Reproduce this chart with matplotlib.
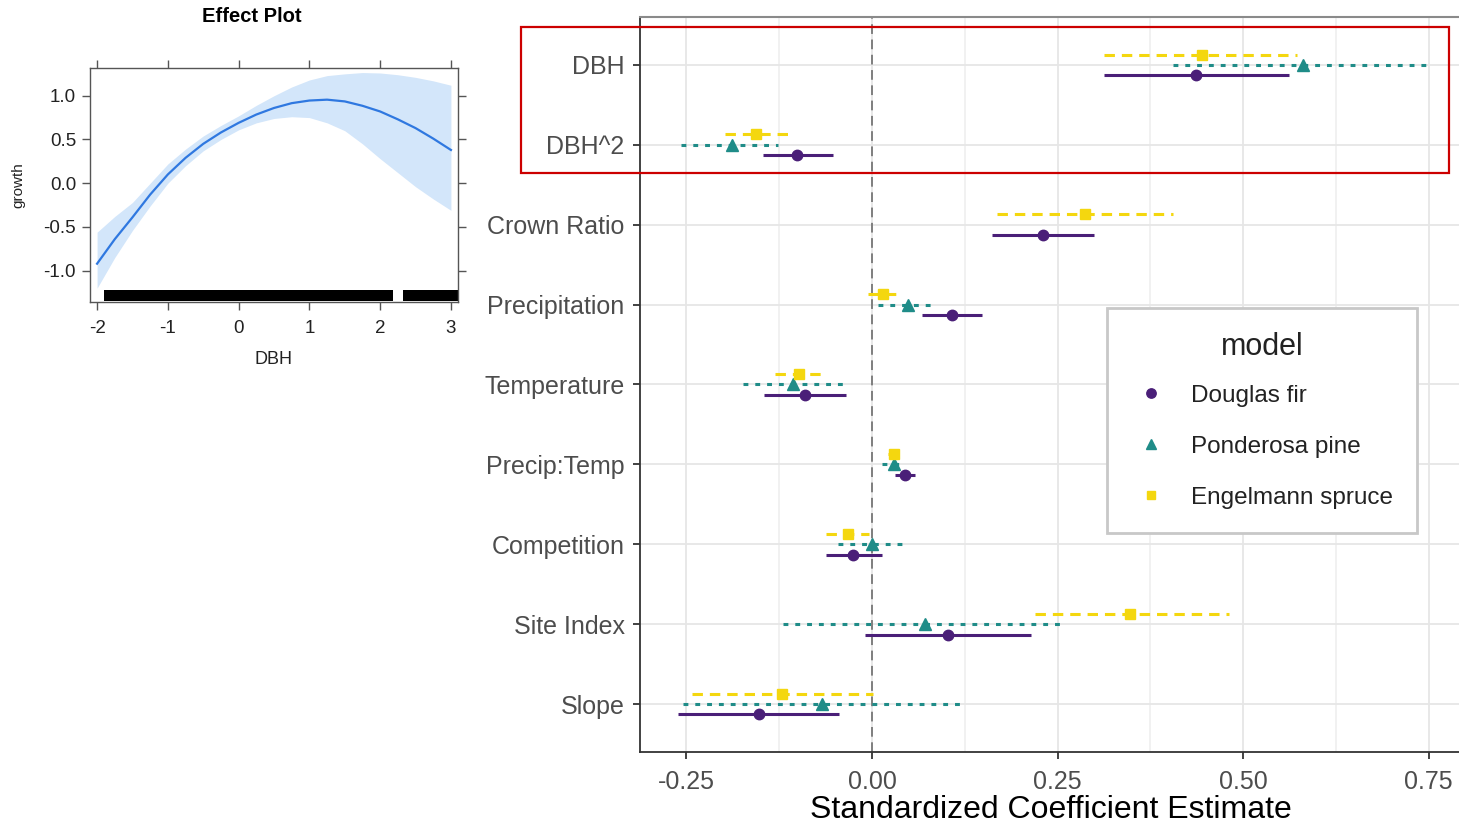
import numpy as np
import matplotlib
matplotlib.use("Agg")
import matplotlib.pyplot as plt
from matplotlib.lines import Line2D
from matplotlib.patches import Rectangle

plt.rcParams['font.family'] = ['Liberation Sans', 'DejaVu Sans']
plt.rcParams['axes.unicode_minus'] = False
plt.rcParams['lines.scale_dashes'] = False

# ---- effect plot data (DBH effect on growth) ----
dbh_x = [-2, -1.75, -1.5, -1.25, -1, -0.75, -0.5, -0.25, 0, 0.25, 0.5,
         0.75, 1, 1.25, 1.5, 1.75, 2, 2.25, 2.5, 2.75, 3]
growth_fit = [-0.92, -0.64, -0.39, -0.13, 0.10, 0.29, 0.45, 0.58, 0.69, 0.785,
              0.86, 0.915, 0.945, 0.955, 0.935, 0.885, 0.82, 0.73, 0.63, 0.51,
              0.38]
growth_lower = [-1.20, -0.85, -0.54, -0.26, 0.00, 0.20, 0.37, 0.50, 0.61, 0.69,
                0.74, 0.76, 0.75, 0.69, 0.60, 0.45, 0.28, 0.12, -0.04, -0.18,
                -0.31]
growth_upper = [-0.56, -0.38, -0.22, 0.00, 0.22, 0.39, 0.54, 0.66, 0.77, 0.89,
                1.00, 1.10, 1.18, 1.23, 1.25, 1.265, 1.26, 1.24, 1.21, 1.17,
                1.12]
rug_spans = [(-1.90, 2.18), (2.32, 3.10)]

# ---- coefficient data ----
terms = ['DBH', 'DBH^2', 'Crown Ratio', 'Precipitation', 'Temperature',
         'Precip:Temp', 'Competition', 'Site Index', 'Slope']
models = ['Douglas fir', 'Ponderosa pine', 'Engelmann spruce']

df_est = [0.437, -0.101, 0.230, 0.108, -0.090, 0.045, -0.025, 0.102, -0.152]
df_lo = [0.312, -0.147, 0.162, 0.068, -0.145, 0.031, -0.062, -0.009, -0.261]
df_hi = [0.562, -0.052, 0.299, 0.148, -0.035, 0.058, 0.014, 0.214, -0.045]

pp_est = [0.581, -0.189, np.nan, 0.049, -0.106, 0.030, 0.000, 0.072, -0.067]
pp_lo = [0.405, -0.258, np.nan, 0.008, -0.174, 0.013, -0.046, -0.120, -0.254]
pp_hi = [0.749, -0.126, np.nan, 0.086, -0.034, 0.042, 0.044, 0.262, 0.121]

es_est = [0.444, -0.156, 0.287, 0.015, -0.099, 0.030, -0.033, 0.347, -0.121]
es_lo = [0.313, -0.198, 0.169, -0.006, -0.131, 0.022, -0.062, 0.220, -0.242]
es_hi = [0.573, -0.113, 0.405, 0.033, -0.066, 0.038, -0.004, 0.481, 0.001]

W, H = 1459, 826
fig = plt.figure(figsize=(W / 100, H / 100), dpi=100)


def fig_box(left, top, right, bottom):
    return [left / W, 1 - bottom / H, (right - left) / W, (bottom - top) / H]


# ======== effect plot (lattice look) ========
ax1 = fig.add_axes(fig_box(90, 68, 458, 302))
ax1.fill_between(dbh_x, growth_lower, growth_upper, color='#d3e6fa', lw=0)
ax1.plot(dbh_x, growth_fit, color='#2f78e0', lw=1.6)
for a, b in rug_spans:
    ax1.axvspan(a, b, ymin=0.005, ymax=0.052, color='black', lw=0)
ax1.set_xlim(-2.1, 3.1)
ax1.set_ylim(-1.358, 1.317)
ax1.set_xticks([-2, -1, 0, 1, 2, 3])
ax1.set_xticklabels(['-2', '-1', '0', '1', '2', '3'])
ax1.set_yticks([-1.0, -0.5, 0.0, 0.5, 1.0])
ax1.set_yticklabels(['-1.0', '-0.5', '0.0', '0.5', '1.0'])
ax1.tick_params(direction='out', length=6, width=1, color='#555555',
                labelsize=13.5, labelcolor='#222222', pad=4,
                top=True, right=True)
ax1.tick_params(axis='x', pad=7)
for s in ax1.spines.values():
    s.set_color('#555555')
    s.set_linewidth(1.0)
ax1.set_xlabel('DBH', fontsize=13, color='#222222', labelpad=10)
fig.text(18 / W, 1 - 185 / H, 'growth', rotation=90, fontsize=11,
         color='#222222', ha='center', va='center')
fig.text(252 / W, 1 - 16 / H, 'Effect Plot', fontsize=14.5, fontweight='bold',
         ha='center', va='center')

# ======== coefficient plot ========
ax2 = fig.add_axes(fig_box(640, 17, 1462, 752))
ypos = np.arange(len(terms))[::-1] + 1.0
dodge = 0.13

series = [
    (df_est, df_lo, df_hi, '#4a1f78', '-', 'o', 7.5, -dodge),
    (pp_est, pp_lo, pp_hi, '#1f8c88', (0, (3.5, 5.0)), '^', 8.5, 0.0),
    (es_est, es_lo, es_hi, '#f4d70f', (0, (7.5, 5.0)), 's', 7.0, dodge),
]
for est, lo, hi, col, ls, mk, ms, off in series:
    for i in range(len(terms)):
        if np.isnan(est[i]):
            continue
        y = ypos[i] + off
        ax2.plot([lo[i], hi[i]], [y, y], color=col, ls=ls, lw=2.2,
                 solid_capstyle='butt', zorder=3)
        ax2.plot(est[i], y, marker=mk, ms=ms, color=col, mec=col, zorder=4)

ax2.axvline(0, color='#777777', ls=(0, (7, 4)), lw=1.3, zorder=2)
ax2.set_xlim(-0.3126, 0.795)
ax2.set_ylim(0.4, 9.6)
ax2.set_yticks(ypos)
ax2.set_yticklabels(terms)
ax2.set_xticks([-0.25, 0, 0.25, 0.5, 0.75])
ax2.set_xticklabels(['-0.25', '0.00', '0.25', '0.50', '0.75'])
ax2.set_xticks([-0.125, 0.125, 0.375, 0.625], minor=True)
ax2.grid(True, which='major', color='#e6e6e6', lw=1.3, zorder=0)
ax2.grid(True, which='minor', axis='x', color='#eeeeee', lw=1.1, zorder=0)
ax2.set_axisbelow(True)
ax2.tick_params(axis='both', which='major', direction='out', length=5,
                width=1.3, color='#333333', labelsize=18,
                labelcolor='#4d4d4d')
ax2.tick_params(axis='y', pad=6)
ax2.tick_params(axis='x', pad=8)
ax2.tick_params(which='minor', length=0)
ax2.spines['right'].set_visible(False)
ax2.spines['top'].set_color('#8a8a8a')
ax2.spines['top'].set_linewidth(1.5)
ax2.spines['left'].set_color('#333333')
ax2.spines['bottom'].set_color('#333333')
ax2.spines['left'].set_linewidth(1.3)
ax2.spines['bottom'].set_linewidth(1.3)
ax2.set_xlabel('Standardized Coefficient Estimate', fontsize=23,
               color='black', labelpad=1)

handles = [Line2D([], [], ls='none', marker=s[5], ms=s[6] * 0.9, color=s[3])
           for s in series]
leg = ax2.legend(handles, models, title='model', loc='upper left',
                 bbox_to_anchor=((1107 - 640) / (1462 - 640),
                                 1 - (308 - 17) / (752 - 17)),
                 fontsize=17.5, title_fontsize=22, frameon=True,
                 fancybox=False, edgecolor='#c8c8c8', framealpha=1,
                 borderpad=1.0, labelspacing=1.2, handletextpad=0.85,
                 handlelength=1.6, borderaxespad=0)
leg.get_frame().set_linewidth(2)
leg.get_title().set_color('#222222')
leg._legend_box.sep = 16
for t in leg.get_texts():
    t.set_color('#222222')

# highlight box around the DBH terms
fig.add_artist(Rectangle((521 / W, 1 - 173 / H), (1449 - 521) / W,
                         (173 - 27) / H, transform=fig.transFigure,
                         fill=False, ec='#cc0000', lw=1.6, zorder=10))

fig.savefig('out.png', dpi=100)
